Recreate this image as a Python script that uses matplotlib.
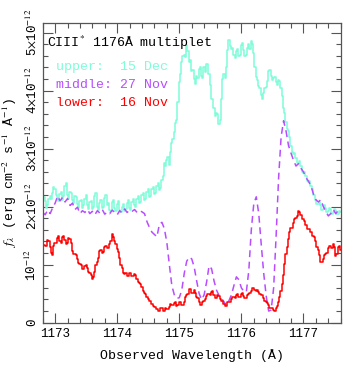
import numpy as np
import matplotlib
matplotlib.use("Agg")
import matplotlib.pyplot as plt
from matplotlib.ticker import FixedLocator, MultipleLocator

# ---------------- data (flux in units of 1e-12 erg cm^-2 s^-1 A^-1) ----------------
wl_start = 1172.80
wavelength_fine = wl_start + 0.02 * np.arange(241)     # upper & lower spectra
wavelength_coarse = wl_start + 0.04 * np.arange(121)   # smoothed middle spectrum

upper_15dec = [
    2.05, 2.16, 2.10, 1.98, 2.02, 2.14, 2.18, 2.13, 2.24, 2.34,
    2.30, 2.20, 2.15, 2.10, 2.22, 2.26, 2.12, 2.18, 2.36, 2.40,
    2.20, 2.14, 2.26, 2.24, 2.12, 2.06, 2.18, 2.16, 2.04, 1.98,
    2.10, 2.12, 1.98, 2.02, 2.14, 2.20, 2.02, 1.96, 2.08, 2.10,
    1.96, 2.00, 2.18, 2.24, 2.00, 1.94, 2.06, 2.12, 1.97, 2.00,
    2.15, 2.20, 2.02, 2.06, 1.95, 1.92, 2.08, 2.12, 1.98, 1.93,
    2.04, 2.10, 1.94, 1.90, 2.00, 2.05, 1.93, 1.96, 2.06, 2.12,
    1.98, 1.95, 2.08, 2.13, 2.02, 2.00, 2.14, 2.18, 2.06, 2.08,
    2.20, 2.24, 2.12, 2.14, 2.26, 2.30, 2.16, 2.18, 2.30, 2.34,
    2.22, 2.24, 2.36, 2.40, 2.28, 2.32, 2.46, 2.52, 2.75, 2.70,
    2.80, 2.86, 2.72, 2.95, 3.10, 3.16, 3.28, 3.44, 3.50, 3.80,
    4.15, 4.28, 4.50, 4.60, 4.62, 4.58, 4.78, 4.68, 4.50, 4.52,
    4.34, 4.35, 4.20, 4.12, 4.25, 4.22, 4.38, 4.40, 4.26, 4.22,
    4.40, 4.32, 4.45, 4.46, 4.28, 4.10, 3.85, 3.86, 3.70, 3.56,
    3.62, 3.60, 3.42, 3.50, 3.85, 4.20, 4.28, 4.22, 4.40, 4.70,
    4.88, 4.76, 4.72, 4.74, 4.62, 4.56, 4.68, 4.72, 4.60, 4.62,
    4.78, 4.82, 4.70, 4.60, 4.62, 4.74, 4.80, 4.72, 4.86, 4.80,
    4.65, 4.40, 4.24, 4.18, 4.08, 4.04, 3.92, 3.86, 3.95, 4.04,
    4.06, 4.16, 4.34, 4.36, 4.26, 4.18, 4.22, 4.24, 4.14, 4.10,
    4.18, 4.16, 4.04, 3.90, 3.70, 3.62, 3.46, 3.34, 3.30, 3.20,
    3.05, 2.94, 2.90, 2.92, 2.84, 2.76, 2.76, 2.78, 2.70, 2.60,
    2.58, 2.60, 2.52, 2.44, 2.42, 2.44, 2.36, 2.30, 2.20, 2.20,
    2.12, 2.04, 2.05, 2.08, 2.02, 1.95, 1.96, 2.02, 1.98, 1.90,
    1.92, 1.98, 1.96, 1.88, 1.90, 1.96, 1.94, 1.87, 1.88, 1.93,
    1.90,
]

middle_27nov = [
    1.90, 1.86, 1.94, 1.88, 1.98, 2.06, 2.18, 2.10, 2.16, 2.08,
    2.14, 2.02, 2.06, 1.95, 1.99, 1.88, 1.93, 1.90, 1.95, 1.88,
    1.92, 1.86, 1.93, 1.89, 1.95, 1.87, 1.91, 1.88, 1.94, 1.90,
    1.86, 1.93, 1.89, 1.96, 1.90, 1.94, 1.92, 1.95, 1.90, 1.93,
    1.91, 1.88, 1.74, 1.64, 1.56, 1.52, 1.48, 1.70, 1.73, 1.62,
    1.38, 1.00, 0.64, 0.48, 0.42, 0.43, 0.56, 0.85, 1.06, 1.13,
    1.10, 0.96, 0.72, 0.50, 0.40, 0.48, 0.70, 0.98, 0.93, 0.72,
    0.56, 0.47, 0.42, 0.36, 0.30, 0.38, 0.48, 0.64, 0.79, 0.74,
    0.60, 0.54, 0.53, 0.90, 1.60, 2.05, 2.17, 1.88, 1.35, 0.85,
    0.46, 0.20, 0.22, 0.60, 1.50, 2.50, 3.20, 3.48, 3.30, 3.05,
    2.92, 2.80, 2.70, 2.74, 2.66, 2.60, 2.50, 2.44, 2.36, 2.22,
    2.12, 2.08, 2.12, 2.00, 1.92, 1.84, 1.88, 1.95, 1.88, 1.93,
    1.90,
]

lower_16nov = [
    1.25, 1.34, 1.33, 1.33, 1.42, 1.40, 1.30, 1.20, 1.17, 1.32,
    1.38, 1.38, 1.46, 1.49, 1.40, 1.38, 1.48, 1.50, 1.42, 1.36,
    1.38, 1.46, 1.45, 1.38, 1.24, 1.18, 1.18, 1.16, 1.10, 1.03,
    1.02, 1.00, 0.93, 0.92, 0.98, 1.00, 0.94, 0.88, 0.86, 0.83,
    0.76, 0.79, 0.88, 0.99, 1.05, 1.12, 1.24, 1.26, 1.20, 1.22,
    1.30, 1.32, 1.28, 1.28, 1.36, 1.40, 1.52, 1.48, 1.40, 1.36,
    1.27, 1.22, 1.12, 1.00, 0.94, 0.86, 0.84, 0.85, 0.80, 0.80,
    0.85, 0.86, 0.81, 0.80, 0.84, 0.82, 0.76, 0.70, 0.68, 0.67,
    0.62, 0.54, 0.52, 0.50, 0.44, 0.40, 0.38, 0.37, 0.33, 0.28,
    0.27, 0.27, 0.24, 0.20, 0.21, 0.25, 0.25, 0.20, 0.21, 0.25,
    0.24, 0.23, 0.27, 0.32, 0.31, 0.30, 0.34, 0.35, 0.29, 0.30,
    0.36, 0.36, 0.31, 0.30, 0.35, 0.44, 0.48, 0.50, 0.58, 0.58,
    0.52, 0.51, 0.57, 0.52, 0.44, 0.42, 0.36, 0.31, 0.30, 0.36,
    0.38, 0.40, 0.46, 0.50, 0.50, 0.48, 0.53, 0.54, 0.47, 0.42,
    0.43, 0.47, 0.46, 0.40, 0.38, 0.37, 0.33, 0.29, 0.29, 0.35,
    0.36, 0.36, 0.40, 0.44, 0.44, 0.43, 0.48, 0.49, 0.44, 0.45,
    0.50, 0.51, 0.46, 0.42, 0.43, 0.48, 0.50, 0.51, 0.55, 0.59,
    0.60, 0.56, 0.55, 0.56, 0.53, 0.49, 0.48, 0.47, 0.43, 0.38,
    0.36, 0.34, 0.30, 0.26, 0.25, 0.25, 0.22, 0.21, 0.25, 0.28,
    0.35, 0.44, 0.55, 0.66, 0.82, 1.02, 1.18, 1.30, 1.45, 1.56,
    1.63, 1.64, 1.72, 1.79, 1.80, 1.84, 1.93, 1.91, 1.85, 1.78,
    1.78, 1.76, 1.68, 1.62, 1.62, 1.62, 1.56, 1.50, 1.50, 1.48,
    1.40, 1.30, 1.25, 1.16, 1.04, 1.05, 1.10, 1.16, 1.18, 1.20,
    1.28, 1.33, 1.32, 1.28, 1.36, 1.30, 1.15, 1.18, 1.30, 1.32,
    1.25,
]

flux_unit = 1e-12
x_ticks = [1173, 1174, 1175, 1176, 1177]
y_tick_values = [0, 1, 2, 3, 4, 5]
y_tick_labels = ['0', r'10$^{-12}$', r'2$\times$10$^{-12}$', r'3$\times$10$^{-12}$',
                 r'4$\times$10$^{-12}$', r'5$\times$10$^{-12}$']
legend_names = ['upper:  15 Dec', 'middle: 27 Nov', 'lower:  16 Nov']

# ---------------- style ----------------
plt.rcParams['font.family'] = ['Liberation Mono', 'DejaVu Sans']
plt.rcParams['mathtext.fontset'] = 'stix'

c_upper = '#7ffcd8'
c_middle = '#b84dff'
c_lower = '#ff0000'
frame_c = '#555555'

W, H = 343, 366
fig = plt.figure(figsize=(W / 100, H / 100), dpi=100)
ax = fig.add_axes([42.7 / W, 1 - 322.7 / H, (340.7 - 42.7) / W, 300 / H])

ax.plot(wavelength_fine, np.array(upper_15dec) * flux_unit, color=c_upper, lw=1.1,
        drawstyle='steps-mid')
ax.plot(wavelength_coarse, np.array(middle_27nov) * flux_unit, color=c_middle, lw=1.1,
        dashes=(4.5, 3))
ax.plot(wavelength_fine, np.array(lower_16nov) * flux_unit, color=c_lower, lw=1.1,
        drawstyle='steps-mid')

ax.set_xlim(1172.8, 1177.6)
ax.set_ylim(0, 5.17 * flux_unit)

ax.xaxis.set_major_locator(FixedLocator(x_ticks))
ax.xaxis.set_minor_locator(MultipleLocator(0.2))
ax.yaxis.set_major_locator(FixedLocator([v * flux_unit for v in y_tick_values]))
ax.yaxis.set_minor_locator(MultipleLocator(0.2 * flux_unit))
ax.set_yticklabels(y_tick_labels, rotation=90, va='center')

ax.tick_params(which='both', direction='in', top=True, right=True, color=frame_c,
               width=0.8, labelsize=9)
ax.tick_params(which='major', length=7)
ax.tick_params(which='minor', length=3.5)
ax.tick_params(axis='y', pad=3)
ax.tick_params(axis='x', pad=4)
for s in ax.spines.values():
    s.set_color(frame_c)
    s.set_linewidth(0.9)

ax.set_xlabel('Observed Wavelength (Å)', fontsize=9.5, labelpad=6)
ax.set_ylabel(r'$f_\lambda$ (erg cm$^{-2}$ s$^{-1}$ Å$^{-1}$)', fontsize=9.5, labelpad=3)

fig.text(47 / W, 1 - 43 / H, r'CIII$^{*}$ 1176Å multiplet', fontsize=9.5,
         va='center', ha='left', color='black')
for i, (name, col) in enumerate(zip(legend_names, [c_upper, c_middle, c_lower])):
    fig.text(56 / W, 1 - (67 + 18 * i) / H, name, fontsize=9.5, va='center',
             ha='left', color=col)

fig.savefig('out.png', dpi=100)
